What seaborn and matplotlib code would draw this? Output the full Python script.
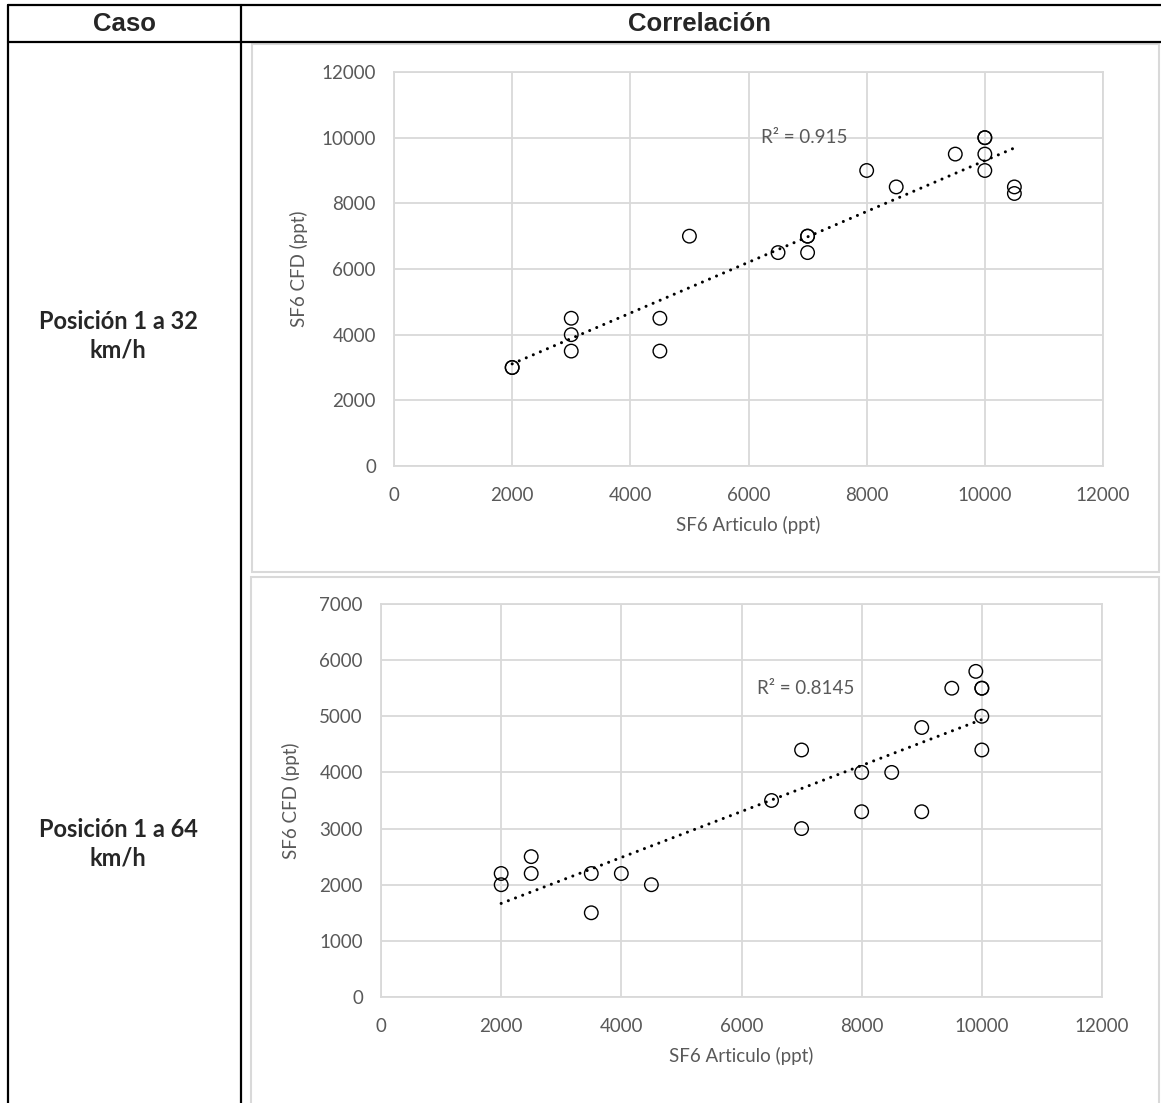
import numpy as np
import pandas as pd
import matplotlib
matplotlib.use("Agg")
import matplotlib.pyplot as plt
import seaborn as sns
from matplotlib.lines import Line2D
from matplotlib.patches import Rectangle

# --- datos ---
# Posicion 1 a 32 km/h
art_32 = [2000, 2000, 3000, 3000, 3000, 4500, 4500, 5000, 6500, 7000, 7000,
          7000, 8000, 8500, 9500, 10000, 10000, 10000, 10000, 10500, 10500]
cfd_32 = [3000, 3000, 4500, 4000, 3500, 4500, 3500, 7000, 6500, 7000, 7000,
          6500, 9000, 8500, 9500, 10000, 10000, 9500, 9000, 8500, 8300]
r2_32 = "R² = 0.915"

# Posicion 1 a 64 km/h
art_64 = [2000, 2000, 2500, 2500, 3500, 3500, 4000, 4500, 6500, 7000, 7000,
          8000, 8000, 8500, 9000, 9000, 9500, 9900, 10000, 10000, 10000, 10000]
cfd_64 = [2200, 2000, 2500, 2200, 2200, 1500, 2200, 2000, 3500, 4400, 3000,
          4000, 3300, 4000, 4800, 3300, 5500, 5800, 5500, 5500, 5000, 4400]
r2_64 = "R² = 0.8145"

casos = ["Posición 1 a 32\nkm/h", "Posición 1 a 64\nkm/h"]
xlabel = "SF6 Articulo (ppt)"
ylabel = "SF6 CFD (ppt)"

W, H = 1161, 1103
GRID = "#d9d9d9"
TXT = "#595959"

sns.set_theme(style="white")
plt.rcParams['font.family'] = ['Lato', 'DejaVu Sans']

fig = plt.figure(figsize=(W / 100, H / 100), dpi=100)


def fx(px):
    return px / W


def fy(py):
    return 1 - py / H


def panel(left, top, right, bottom, x, y, r2, ymax, ystep, r2pos, ylpad):
    ax = fig.add_axes([fx(left), fy(bottom), fx(right) - fx(left), fy(top) - fy(bottom)])
    df = pd.DataFrame({"art": x, "cfd": y})
    sns.regplot(data=df, x="art", y="cfd", ax=ax, scatter=False, ci=None,
                truncate=True,
                line_kws=dict(color="black", lw=2.2, linestyle=(0, (0.01, 2.5)),
                              dash_capstyle="round", zorder=3))
    sns.scatterplot(data=df, x="art", y="cfd", ax=ax, s=95, facecolor="none",
                    edgecolor="black", linewidth=1.0, zorder=4)
    ax.set_xlim(0, 12000)
    ax.set_ylim(0, ymax)
    ax.set_xticks(np.arange(0, 12001, 2000))
    ax.set_yticks(np.arange(0, ymax + 1, ystep))
    ax.grid(True, color=GRID, lw=1.3)
    ax.set_axisbelow(True)
    for s in ax.spines.values():
        s.set_color(GRID)
        s.set_linewidth(1.3)
    ax.tick_params(length=0, labelsize=13.5, labelcolor=TXT)
    ax.tick_params(axis="x", pad=15)
    ax.tick_params(axis="y", pad=13)
    ax.set_xlabel(xlabel, fontsize=13.5, color=TXT, labelpad=9)
    ax.set_ylabel(ylabel, fontsize=13.5, color=TXT, labelpad=ylpad)
    ax.text(r2pos[0], r2pos[1], r2, fontsize=13.5, color=TXT, ha="center", va="center")
    return ax


panel(394, 72, 1103, 466, art_32, cfd_32, r2_32, 12000, 2000, (6950, 10000), 10)
panel(381, 604, 1102, 997, art_64, cfd_64, r2_64, 7000, 1000, (7070, 5490), 14)

# marcos grises de cada grafico
fig.add_artist(Rectangle((fx(252), fy(572)), fx(1159) - fx(252), fy(44) - fy(572),
                         transform=fig.transFigure, fill=False, ec=GRID, lw=1.5))
fig.add_artist(Rectangle((fx(251), fy(1110)), fx(1159) - fx(251), fy(577) - fy(1110),
                         transform=fig.transFigure, fill=False, ec=GRID, lw=1.5))

# lineas de la tabla
lines = [((8, 1161), (5, 5)), ((8, 1161), (42, 42)), ((8, 8), (5, 1103)), ((241, 241), (5, 1103))]
for xs, ys in lines:
    fig.add_artist(Line2D([fx(v) for v in xs], [fy(v) for v in ys],
                          transform=fig.transFigure, color="black", lw=1.6))

fig.text(fx(124), fy(24), "Caso", ha="center", va="center", fontsize=18.5,
         fontweight="bold", family=["Liberation Sans", "DejaVu Sans"])
fig.text(fx(700), fy(24), "Correlación", ha="center", va="center", fontsize=18.5,
         fontweight="bold", family=["Liberation Sans", "DejaVu Sans"])
fig.text(fx(118), fy(336), casos[0], ha="center", va="center", fontsize=17,
         fontweight="bold", linespacing=1.3)
fig.text(fx(118), fy(844), casos[1], ha="center", va="center", fontsize=17,
         fontweight="bold", linespacing=1.3)

fig.savefig("out.png", dpi=100, facecolor="white")
